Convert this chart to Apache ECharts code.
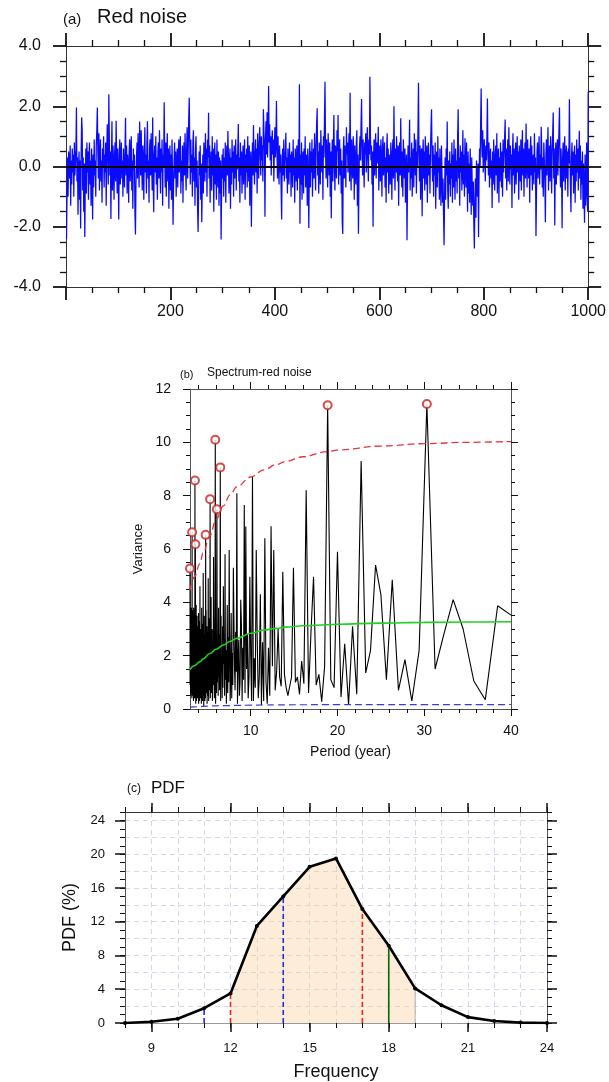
<!DOCTYPE html>
<html><head><meta charset="utf-8">
<script src="https://cdn.jsdelivr.net/npm/echarts@6/dist/echarts.min.js"></script>
<style>html,body{margin:0;padding:0;background:#fff}#c{width:609px;height:1082px}</style>
</head><body><div id="c"></div>
<script>
// ---------- (a) Red noise time series (index 1..1000) ----------
const redNoise = [
-2.4,-0.9,0.3,-1.0,0.5,0.1,-0.4,0.7,-1.3,0.2,-0.6,0.6,-0.2,0.4,-1.0,0.8,-0.3,0.1,0.6,1.96,
-0.5,0.3,-1.6,-0.2,0.5,-1.1,0.2,-2.06,0.4,1.63,1.2,-0.8,0.3,-1.5,0.1,-2.34,-0.4,0.6,-0.9,0.8,
-0.2,0.5,-1.1,0.3,0.8,-0.6,0.2,-1.3,0.6,-0.1,-1.76,0.4,-0.7,0.9,-0.3,0.2,-1.0,0.7,1.2,1.96,
0.5,-0.4,1.1,-0.8,0.3,0.9,-0.5,0.2,-1.2,0.6,0.0,1.0,-0.7,0.4,-0.2,0.8,-1.3,0.3,1.4,0.6,
-0.6,2.4,0.9,-0.3,0.5,-1.74,0.2,1.5,-0.8,0.7,0.1,-1.1,0.4,0.8,-0.5,1.52,0.3,-0.9,0.6,-0.2,
-1.76,0.4,0.9,-0.6,0.3,0.8,-0.4,0.2,-1.0,0.6,0.1,-0.7,0.5,1.62,-0.3,0.7,-0.9,0.4,0.0,-1.2,
0.5,0.9,-0.5,0.3,1.0,-0.8,0.2,-1.4,0.6,-0.1,0.4,-1.5,-2.26,-0.6,0.3,0.8,-0.4,1.1,0.2,-0.7,
1.49,0.6,-0.3,1.2,0.1,-0.8,0.7,0.3,-1.1,0.5,1.3,-0.2,0.4,-0.9,0.8,1.5,-0.4,0.2,-1.2,0.6,
0.9,-0.3,1.1,0.2,-0.8,1.63,-0.5,-1.52,0.4,0.7,-0.2,1.0,-0.6,0.3,-1.1,0.5,0.8,-0.4,1.2,0.1,
-0.9,0.6,-0.2,0.9,-1.3,0.4,0.0,2.13,0.5,-0.7,0.8,-1.0,0.3,1.1,-0.5,0.6,-1.4,0.2,0.7,-0.8,
0.4,-1.1,0.9,-0.3,-1.93,-0.6,0.2,0.8,-0.4,0.5,-1.0,0.1,0.6,-0.7,0.3,0.9,-0.2,0.5,1.0,-0.9,
0.2,-0.5,0.7,-1.2,0.4,0.8,-0.3,1.1,0.0,-0.8,0.6,1.3,-0.4,0.5,1.6,2.28,0.7,-0.6,0.9,-0.2,
0.4,-1.0,0.8,1.2,-0.5,0.3,-1.3,0.6,1.0,-0.7,0.2,-1.4,-2.17,-0.8,0.5,-0.3,0.7,-1.1,0.1,-1.85,
-0.6,0.4,-0.9,0.8,0.2,-0.5,1.1,-0.2,0.6,-1.0,0.9,0.3,1.78,-0.4,0.7,-1.2,0.1,0.5,-0.8,1.0,
-0.3,0.6,-1.5,0.2,0.8,-0.6,0.4,-1.1,0.9,0.0,-0.7,0.5,-1.3,0.3,-0.9,0.2,-2.42,-0.8,0.4,-0.4,
0.6,-1.0,0.3,-0.5,0.8,-1.2,0.2,0.7,-0.3,1.18,0.4,-0.9,0.1,0.6,-1.4,0.3,-0.6,0.9,-0.2,0.5,
-1.0,0.7,-0.4,0.2,0.9,-0.8,0.4,-0.1,0.6,1.41,-0.5,0.3,-1.2,0.8,-0.3,0.5,-0.9,0.1,0.7,-0.6,
0.3,0.9,-1.1,0.4,-0.2,0.6,-0.7,1.0,0.2,-0.5,0.7,-1.3,0.1,0.5,-2.0,-0.4,0.8,-0.3,1.38,0.2,
-0.6,0.4,0.9,-0.2,0.6,-0.9,1.1,0.3,-0.4,0.8,1.3,0.5,-0.3,1.0,0.2,0.7,-0.5,1.9,1.2,0.6,
-1.67,0.9,1.5,0.4,1.8,0.3,1.1,2.67,0.8,1.4,0.2,1.0,-0.3,0.7,1.2,0.4,0.9,-0.5,0.6,1.3,
0.3,0.8,2.17,0.5,-0.4,1.0,0.1,-0.6,0.7,-0.2,0.4,-0.8,-1.76,0.3,0.6,-0.3,0.9,-0.5,0.2,0.5,
1.12,-0.4,0.3,-0.9,0.6,0.0,-0.6,0.8,-0.2,0.4,-1.0,0.5,0.1,-0.7,0.9,-0.3,0.3,-1.2,0.6,0.2,
-0.5,0.7,-0.8,0.3,0.9,-0.4,2.73,-1.9,0.4,-0.6,0.8,-1.1,0.2,0.5,-0.9,0.6,-0.3,1.0,-0.7,0.1,
0.4,-1.3,0.6,-0.5,-2.04,0.3,0.8,-0.7,0.5,-0.2,0.9,-1.0,0.1,0.6,-0.4,1.1,0.2,-0.8,0.7,1.4,
1.93,-0.3,0.5,-0.9,0.8,0.1,-0.6,1.2,0.4,-0.2,0.7,-1.1,1.0,0.3,1.6,2.81,0.6,-0.4,0.9,0.2,
-0.7,1.1,0.4,-0.3,0.8,-1.0,0.5,-1.72,0.2,0.9,-0.5,0.6,1.71,0.0,-0.8,0.7,0.3,-0.4,1.2,0.5,
1.71,-0.6,0.4,0.9,-0.3,0.6,-0.9,0.2,-1.84,-2.24,0.5,1.0,-0.4,0.7,0.1,-0.7,1.3,0.4,0.8,-0.2,
0.6,1.1,-0.5,2.45,0.3,-0.8,0.9,0.2,-0.4,1.0,0.5,-1.1,0.7,0.0,-0.6,0.8,1.2,-1.3,0.4,-2.23,
-0.5,0.6,1.0,0.2,1.4,2.24,0.5,-0.3,0.9,0.1,-0.7,0.8,0.4,1.1,-0.2,0.6,1.3,0.3,-0.5,0.9,
0.4,2.98,1.0,0.2,0.7,-0.6,0.5,-2.0,0.3,0.9,-0.3,0.6,1.1,-0.4,0.8,0.1,0.5,1.32,-0.8,0.3,
0.7,-0.5,0.9,0.2,-1.0,0.6,1.0,-0.3,0.4,0.8,-0.7,0.3,-1.2,0.5,1.1,-0.2,0.6,-0.9,0.4,0.0,
-0.6,0.8,0.2,-1.1,0.5,0.9,-0.4,2.0,0.3,-0.8,0.6,-0.2,1.0,0.1,-0.5,0.7,-1.3,0.4,0.8,-0.3,
1.6,0.2,-0.7,0.5,-1.0,0.9,0.3,-0.4,0.6,-1.2,0.1,0.4,-2.45,-0.6,0.7,-0.2,0.5,1.55,-0.8,0.3,
-0.4,0.8,-1.0,0.2,0.6,-0.7,1.1,0.4,-0.3,0.9,-0.9,0.5,0.0,1.2,2.78,0.3,-0.5,0.7,-1.1,0.4,
0.6,-1.65,0.2,0.9,-0.4,0.5,-0.8,1.0,0.1,-0.6,0.7,-1.2,0.3,0.8,-0.3,0.4,-0.9,0.6,1.3,1.9,
0.2,-0.5,0.7,-1.0,0.4,-0.3,0.8,-1.4,0.1,0.5,-0.7,1.0,-0.2,0.3,-1.1,0.6,-0.5,-1.3,0.7,0.7,
-1.2,-0.4,-1.6,-2.61,-0.9,0.3,-1.1,0.6,-0.3,1.49,-0.8,-1.4,0.2,-0.6,0.5,-1.0,0.1,-0.4,0.8,-1.2,
0.4,-0.7,0.9,-0.3,-1.1,0.6,-0.5,0.2,-0.9,1.0,1.9,-0.4,0.3,-1.3,0.7,-0.2,0.5,-0.8,0.1,1.2,
-0.6,0.4,-1.0,0.94,0.2,-0.7,0.8,-0.3,-1.5,0.5,-0.9,0.1,-1.2,0.6,-0.4,-1.6,0.3,-0.8,-1.3,-0.5,
-1.9,-2.72,-1.1,-0.4,-1.7,0.2,-0.6,-1.0,0.1,-2.34,-0.3,0.6,0.0,1.4,2.59,0.8,0.3,1.2,-0.2,0.5,
0.9,0.1,-0.5,0.7,0.2,1.0,2.26,0.4,-0.3,0.8,-0.7,0.3,0.6,-0.4,0.2,-1.38,0.5,-0.6,0.9,0.0,
-0.8,0.4,0.7,-0.3,1.1,-0.9,0.2,0.6,-1.2,0.3,-0.5,0.8,0.1,-0.7,0.5,-1.0,0.9,-0.2,0.4,1.0,
1.56,-0.4,0.6,-0.8,0.2,0.9,-0.5,1.3,0.3,-0.6,0.7,-0.1,0.4,-1.38,0.5,1.1,-0.3,0.6,-0.9,0.2,
0.8,-0.6,0.3,1.0,-0.2,0.5,-1.1,0.7,0.1,-0.5,0.9,-0.8,0.4,1.2,-0.3,0.6,-1.0,0.2,0.8,-0.4,
1.43,0.3,-0.7,0.9,0.1,-0.4,0.6,-1.2,0.5,1.0,-0.3,0.7,-0.8,0.2,0.4,-0.6,1.1,-0.2,0.3,-2.31,
-0.9,0.5,0.8,-0.4,0.2,1.0,-0.6,0.4,-0.1,1.32,0.6,-0.7,0.3,-1.0,0.8,0.2,-0.5,-1.85,0.4,0.9,
-0.3,0.6,1.3,-0.8,0.2,0.7,-0.5,1.0,0.3,-0.9,0.5,1.1,1.79,-0.4,0.6,-1.96,0.2,0.8,-0.6,0.4,
0.9,-0.3,0.5,1.2,1.96,0.1,-0.7,0.6,-0.2,-2.05,0.3,0.8,-0.5,0.4,1.0,-0.8,0.2,0.7,-0.4,0.5,
-1.0,0.6,0.1,2.23,0.4,-0.6,-1.52,0.3,0.8,-0.3,0.5,-0.9,0.2,0.7,-1.2,0.4,-0.5,0.9,-0.2,0.6,
-0.8,0.3,1.19,-0.4,0.7,-1.1,0.2,-0.6,0.5,-1.4,0.1,-0.9,-1.87,0.4,-1.3,-0.7,0.8,-1.0,-1.5,2.48
];

// ---------- (b) Spectrum: variance at harmonic k = 25..333 of a 1000-long record ----------
const recordLength = 1000;
const firstHarmonic = 25;
const spectrum = [
3.52,3.87,0.35,1.05,3.0,4.1,2.8,1.5,11.44,2.2,
0.3,1.85,0.7,4.85,1.1,4.3,5.4,2.2,1.35,9.3,
0.55,3.1,0.15,2.45,0.45,5.9,0.8,1.1,11.39,1.6,
0.27,1.3,0.9,4.96,2.9,0.6,8.2,0.95,1.8,0.55,
1.2,1.0,5.3,1.2,1.15,0.5,0.8,1.3,5.15,0.85,
1.2,3.0,1.4,0.7,5.96,1.6,6.85,0.5,2.3,0.2,
1.0,6.4,0.3,2.5,0.15,4.3,1.2,0.4,2.6,5.96,
0.8,1.9,0.3,8.72,0.3,2.0,
4.96,1.2,0.4,2.8,1.5,6.84,0.6,7.65,1.1,2.3,
0.3,3.2,4.1,1.0,0.5,2.6,1.8,0.2,8.09,1.4,
2.9,0.7,1.6,3.4,5.3,0.9,2.1,0.4,3.6,1.2,
0.3,2.4,5.96,1.0,2.7,0.6,3.9,1.5,0.2,2.2,
1.1,5.8,0.5,2.6,1.7,4.6,0.8,3.1,0.4,2.0,
1.4,3.5,0.3,9.06,1.9,0.7,2.8,1.2,3.8,0.5,
2.2,1.0,3.3,7.49,0.6,2.5,1.3,0.2,10.1,1.6,
2.9,0.4,1.8,3.6,5.7,0.9,2.3,1.1,0.3,3.0,
1.5,2.7,0.6,4.2,1.0,2.0,0.4,7.87,1.3,2.6,
0.7,3.4,1.6,0.3,2.4,4.9,1.1,0.5,2.9,1.8,
0.2,3.1,1.4,2.2,0.6,3.7,1.0,6.53,0.4,2.5,
1.7,0.3,2.8,1.2,3.5,0.8,1.9,0.1,2.6,1.3,
5.1,0.5,2.1,1.6,0.3,3.2,1.0,2.4,0.7,3.8,
1.4,0.2,2.7,1.1,0.6,3.0,1.8,0.4,2.3,1.2,
4.6,0.9,2.0,0.3,3.3,1.5,0.7,2.6,1.1,0.2,
3.6,1.7,0.5,2.2,1.3,3.1,0.4,1.9,2.8,0.8,
1.4,3.5,0.6,2.0,1.1,0.3,2.9,1.6,3.9,0.7,
2.3,1.0,0.2,3.0,1.8,6.18,2.5,0.5,3.4,8.57,
1.2,2.6,0.4,3.7,1.5,0.8,2.9,1.3,3.2,0.6,
2.1,3.8,1.0,0.3,2.7,1.9,3.5,0.7,2.4,1.4,
3.3,0.5,2.0,3.7,1.2,2.8,0.9,6.63,1.6,3.1,
0.4,2.5,3.8,1.1,2.2,0.6,3.4,1.7,2.9,0.8,
3.6,1.3,2.6,3.8,0.5,2.1,3.3,1.0,2.7,3.7,1.5,0.9,5.27
];
// harmonics whose variance exceeds the 95% curve (circled)
const sigHarmonics = [33,53,154,164,169,188,208,276,280,308,333];
// theoretical red-noise curves
const curvePeriods = [3.0,3.5,4.15,4.5,5.3,6.0,6.85,7.6,8.4,10.0,11.5,13.0,14.0,16.0,18.8,20.0,25.0,30.0,35.0,40.0];
const theoryMean = [1.48,1.62,1.77,1.88,2.08,2.24,2.40,2.53,2.65,2.84,2.96,3.03,3.07,3.12,3.16,3.18,3.22,3.25,3.26,3.27];
const upper95 = [4.46,4.95,5.45,5.85,6.5,7.1,7.62,8.02,8.33,8.7,8.97,9.17,9.28,9.46,9.65,9.71,9.86,9.95,10.0,10.03];
const lower5 = [0.07,0.08,0.09,0.10,0.11,0.12,0.125,0.13,0.135,0.145,0.15,0.155,0.157,0.16,0.162,0.163,0.165,0.166,0.167,0.168];
const periodMajorTicks = [10,20,30,40];
const periodMinorTicks = [4,6,8,12,14,16,18,22,24,26,28,32,34,36,38];

// ---------- (c) PDF ----------
const pdfFreq = [8,9,10,11,12,13,14,15,16,17,18,19,20,21,22,23,24];
const pdfValue = [0.0,0.15,0.5,1.75,3.5,11.5,15.0,18.5,19.5,13.5,9.15,4.1,2.1,0.7,0.24,0.05,0.0];
const shadeFrom = 12, shadeTo = 19;
const refLines = [
  {freq: 11, color: '#2a2ae0', type: 'dashed'},
  {freq: 12, color: '#e02828', type: 'dashed'},
  {freq: 14, color: '#2a2ae0', type: 'dashed'},
  {freq: 17, color: '#e02828', type: 'dashed'},
  {freq: 18, color: '#0a6a0a', type: 'solid'}
];
const freqMajorTicks = [9,12,15,18,21,24];
const pdfMajorTicks = [0,4,8,12,16,20,24];

// ---------- build ----------
const FF = "'Liberation Sans', Arial, Helvetica, sans-serif";
function mkAxis(g, pos, min, max, o) {
  o = o || {};
  const a = {
    type: 'value', gridIndex: g, position: pos, min: min, max: max, offset: 0,
    axisLine: {show: o.line !== false, onZero: false, lineStyle: {color: o.lineColor || '#333', width: o.lineWidth || 1}},
    axisTick: {show: (o.tickLen || 0) > 0, inside: false, length: o.tickLen || 0, lineStyle: {color: '#111', width: o.tickWidth || 1}},
    axisLabel: {show: !!o.labels, color: '#111', fontFamily: FF, fontSize: o.fontSize || 12, margin: o.margin || 8},
    splitLine: {show: false},
    minorTick: {show: !!o.minor, splitNumber: o.minor || 5, length: o.minorLen || 4, lineStyle: {color: '#111', width: o.minorWidth || 1}}
  };
  if (o.interval) a.interval = o.interval;
  if (o.ticks) { a.axisTick.customValues = o.ticks; a.axisLabel.customValues = o.ticks; }
  if (o.formatter) a.axisLabel.formatter = o.formatter;
  if (o.split) a.splitLine = {show: true, lineStyle: {color: '#d6d6f0', type: [5, 4], width: 1}};
  if (o.name) {
    a.name = o.name; a.nameLocation = 'middle'; a.nameGap = o.nameGap;
    a.nameTextStyle = {fontFamily: FF, fontSize: o.nameSize, color: '#111'};
  }
  return a;
}

const specPeriods = spectrum.map((_, i) => recordLength / (firstHarmonic + i));
const minPeriod = Math.min.apply(null, specPeriods);
const spectrumData = spectrum.map((v, i) => [specPeriods[i], v]);
const sigData = sigHarmonics.map(k => [recordLength / k, spectrum[k - firstHarmonic]]);
const pair = (xs, ys) => xs.map((x, i) => [x, ys[i]]);
const pdfAt = f => pdfValue[pdfFreq.indexOf(f)];
const shadeData = pdfFreq.filter(f => f >= shadeFrom && f <= shadeTo).map(f => [f, pdfAt(f)]);

const xAxis = [
  // panel a
  mkAxis(0, 'bottom', 0, 1000, {interval: 200, tickLen: 13, tickWidth: 1.8, minor: 4, minorLen: 6, minorWidth: 1.3, labels: true, fontSize: 16, margin: 17, formatter: v => v === 0 ? '' : String(v)}),
  mkAxis(0, 'top', 0, 1000, {interval: 200, tickLen: 13, tickWidth: 1.8, minor: 4, minorLen: 6, minorWidth: 1.3}),
  // panel b
  mkAxis(1, 'bottom', minPeriod, 40, {ticks: periodMajorTicks, tickLen: 7, labels: true, fontSize: 14, margin: 15, lineColor: '#555', name: 'Period (year)', nameGap: 36, nameSize: 14}),
  mkAxis(1, 'bottom', minPeriod, 40, {ticks: periodMinorTicks, tickLen: 4, line: false}),
  mkAxis(1, 'top', minPeriod, 40, {ticks: periodMajorTicks, tickLen: 7, lineColor: '#555'}),
  mkAxis(1, 'top', minPeriod, 40, {ticks: periodMinorTicks, tickLen: 4, line: false}),
  // panel c
  mkAxis(2, 'bottom', 8, 24, {ticks: freqMajorTicks, tickLen: 9, tickWidth: 1.5, labels: true, fontSize: 13, margin: 19, lineColor: '#999', name: 'Frequency', nameGap: 40, nameSize: 18}),
  mkAxis(2, 'bottom', 8, 24, {interval: 1, tickLen: 5, line: false, split: true}),
  mkAxis(2, 'top', 8, 24, {ticks: freqMajorTicks, tickLen: 9, tickWidth: 1.5, lineColor: '#333'}),
  mkAxis(2, 'top', 8, 24, {interval: 1, tickLen: 5, line: false})
];
const yAxis = [
  // panel a
  mkAxis(0, 'left', -4, 4, {interval: 2, tickLen: 13, tickWidth: 1.8, minor: 4, minorLen: 6, minorWidth: 1.3, labels: true, fontSize: 16, margin: 25, formatter: v => v.toFixed(1)}),
  mkAxis(0, 'right', -4, 4, {interval: 2, tickLen: 13, tickWidth: 1.8, minor: 4, minorLen: 6, minorWidth: 1.3}),
  // panel b
  mkAxis(1, 'left', 0, 12, {interval: 2, tickLen: 7, minor: 4, minorLen: 4, labels: true, fontSize: 14, margin: 19, lineColor: '#555', name: 'Variance', nameGap: 38, nameSize: 13}),
  mkAxis(1, 'right', 0, 12, {interval: 2, tickLen: 7, minor: 4, minorLen: 4, lineColor: '#555'}),
  // panel c
  mkAxis(2, 'left', 0, 25, {ticks: pdfMajorTicks, tickLen: 10, tickWidth: 1.5, labels: true, fontSize: 13, margin: 20, lineColor: '#555', name: 'PDF (%)', nameGap: 46, nameSize: 18}),
  mkAxis(2, 'left', 0, 25, {interval: 1, tickLen: 5, line: false}),
  mkAxis(2, 'left', 0, 25, {interval: 2, line: false, split: true}),
  mkAxis(2, 'right', 0, 25, {ticks: pdfMajorTicks, tickLen: 10, tickWidth: 1.5, lineColor: '#555'}),
  mkAxis(2, 'right', 0, 25, {interval: 1, tickLen: 5, line: false})
];

const series = [
  {type: 'line', xAxisIndex: 0, yAxisIndex: 0, data: redNoise.map((v, i) => [i + 1, v]), showSymbol: false, symbol: 'none',
   lineStyle: {color: '#0a0aff', width: 1.25}, z: 2,
   markLine: {silent: true, symbol: 'none', label: {show: false}, lineStyle: {color: '#000', width: 2, type: 'solid'}, data: [{yAxis: 0}]}},
  {type: 'line', xAxisIndex: 2, yAxisIndex: 2, data: spectrumData, symbol: 'none', lineStyle: {color: '#000', width: 1.1}, z: 2},
  {type: 'line', xAxisIndex: 2, yAxisIndex: 2, data: pair(curvePeriods, theoryMean), symbol: 'none', smooth: 0.4, smoothMonotone: 'x', lineStyle: {color: '#1ed21e', width: 1.6}, z: 3},
  {type: 'line', xAxisIndex: 2, yAxisIndex: 2, data: pair(curvePeriods, upper95), symbol: 'none', smooth: 0.4, smoothMonotone: 'x', lineStyle: {color: '#e8323c', width: 1.3, type: [7, 4]}, z: 3},
  {type: 'line', xAxisIndex: 2, yAxisIndex: 2, data: pair(curvePeriods, lower5), symbol: 'none', smooth: 0.4, smoothMonotone: 'x', lineStyle: {color: '#3a3ae0', width: 1.2, type: [7, 4]}, z: 3},
  {type: 'scatter', xAxisIndex: 2, yAxisIndex: 2, data: sigData, symbol: 'emptyCircle', symbolSize: 8, itemStyle: {color: '#c42424', borderWidth: 1.8}, z: 4},
  // panel c
  {type: 'line', xAxisIndex: 6, yAxisIndex: 4, data: shadeData, symbol: 'none', lineStyle: {width: 0, opacity: 0},
   areaStyle: {color: 'rgba(250,210,160,0.6)', origin: 'start'}, z: 1},
  {type: 'line', xAxisIndex: 6, yAxisIndex: 4, data: [[shadeTo, 0], [shadeTo, pdfAt(shadeTo)]], symbol: 'none', lineStyle: {color: '#b0b0b0', width: 1}, z: 2}
].concat(refLines.map(r => ({
  type: 'line', xAxisIndex: 6, yAxisIndex: 4, data: [[r.freq, 0], [r.freq, pdfAt(r.freq)]], symbol: 'none',
  lineStyle: {color: r.color, width: 1.6, type: r.type === 'dashed' ? [5, 3] : 'solid'}, z: 3
}))).concat([
  {type: 'line', xAxisIndex: 6, yAxisIndex: 4, data: pair(pdfFreq, pdfValue), symbol: 'circle', symbolSize: 4, showSymbol: true,
   itemStyle: {color: '#000'}, lineStyle: {color: '#000', width: 2.6}, z: 5}
]);

const chart = echarts.init(document.getElementById('c'), null, {renderer: 'canvas'});
chart.setOption({
  animation: false,
  backgroundColor: '#fff',
  grid: [
    {left: 66, top: 46, width: 524, height: 241},
    {left: 190, top: 389, width: 321, height: 320},
    {left: 125, top: 812, width: 422, height: 211}
  ],
  xAxis: xAxis, yAxis: yAxis, series: series,
  graphic: [
    {type: 'text', left: 63, top: 12, style: {text: '(a)', font: '15px ' + FF, fill: '#111'}},
    {type: 'text', left: 97, top: 7, style: {text: 'Red noise', font: '20px ' + FF, fill: '#111'}},
    {type: 'text', left: 180, top: 369, style: {text: '(b)', font: '11px ' + FF, fill: '#111'}},
    {type: 'text', left: 207, top: 367, style: {text: 'Spectrum-red noise', font: '12px ' + FF, fill: '#111'}},
    {type: 'text', left: 127, top: 783, style: {text: '(c)', font: '12px ' + FF, fill: '#111'}},
    {type: 'text', left: 151, top: 780, style: {text: 'PDF', font: '17px ' + FF, fill: '#111'}}
  ]
});
</script>
</body></html>
